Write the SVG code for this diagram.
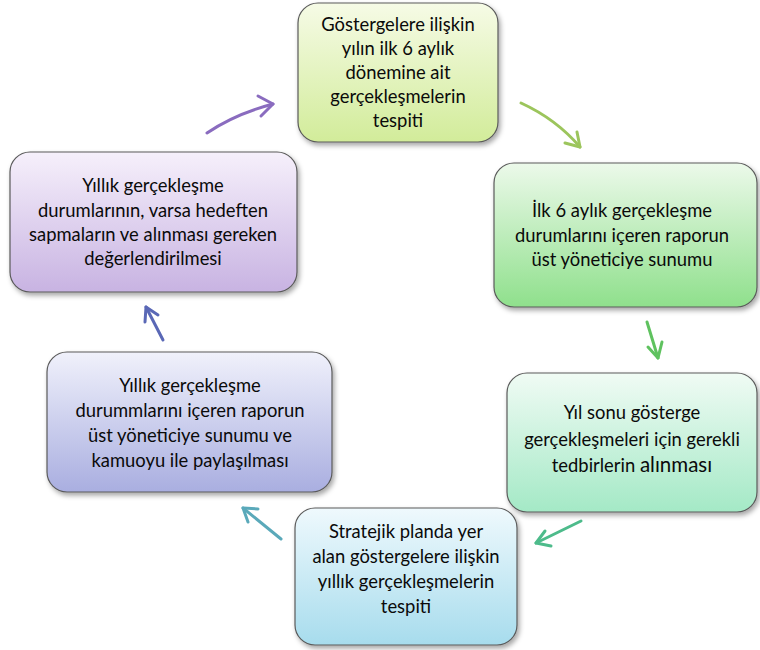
<svg xmlns="http://www.w3.org/2000/svg" width="760" height="650" viewBox="0 0 760 650">
<style>
.box{stroke:#5a5a5a;stroke-width:1.2;filter:url(#sh)}
.t{font-family:Lato,"Open Sans","Liberation Sans",sans-serif;font-size:18.4px;fill:#0a0a0a;text-anchor:middle}
.c{fill:none;stroke-width:3;stroke-linecap:round;stroke-linejoin:round}
</style>
<defs>
<filter id="sh" x="-10%" y="-10%" width="125%" height="130%">
<feDropShadow dx="2" dy="3" stdDeviation="2.5" flood-color="#000" flood-opacity="0.35"/>
</filter>
<linearGradient id="g1" x1="0" y1="0" x2="0" y2="1"><stop offset="0" stop-color="#f6fbe6"/><stop offset="1" stop-color="#d2ec9a"/></linearGradient>
<linearGradient id="g2" x1="0" y1="0" x2="0" y2="1"><stop offset="0" stop-color="#ecf9ea"/><stop offset="1" stop-color="#8fe08c"/></linearGradient>
<linearGradient id="g3" x1="0" y1="0" x2="0" y2="1"><stop offset="0" stop-color="#f0fbf4"/><stop offset="1" stop-color="#a4e9c6"/></linearGradient>
<linearGradient id="g4" x1="0" y1="0" x2="0" y2="1"><stop offset="0" stop-color="#eff9fd"/><stop offset="1" stop-color="#a7dced"/></linearGradient>
<linearGradient id="g5" x1="0" y1="0" x2="0" y2="1"><stop offset="0" stop-color="#f0f1fb"/><stop offset="1" stop-color="#a9aee0"/></linearGradient>
<linearGradient id="g6" x1="0" y1="0" x2="0" y2="1"><stop offset="0" stop-color="#f6f0fb"/><stop offset="1" stop-color="#c8b3e2"/></linearGradient>
</defs>

<g id="n1">
<rect class="box" x="298" y="3" width="200" height="139" rx="20" fill="url(#g1)"/>
<text class="t" x="398" y="31">Göstergelere ilişkin</text>
<text class="t" x="398" y="55">yılın ilk 6 aylık</text>
<text class="t" x="398" y="79">dönemine ait</text>
<text class="t" x="398" y="103">gerçekleşmelerin</text>
<text class="t" x="398" y="127">tespiti</text>
</g>

<g id="n2">
<rect class="box" x="494" y="163" width="263" height="144" rx="20" fill="url(#g2)"/>
<text class="t" x="622" y="217">İlk 6 aylık gerçekleşme</text>
<text class="t" x="622" y="242">durumlarını içeren raporun</text>
<text class="t" x="622" y="266">üst yöneticiye sunumu</text>
</g>

<g id="n3">
<rect class="box" x="507" y="373" width="250" height="139" rx="20" fill="url(#g3)"/>
<text class="t" x="632" y="419">Yıl sonu gösterge</text>
<text class="t" x="632" y="446">gerçekleşmeleri için gerekli</text>
<text class="t" x="632" y="472">tedbirlerin <tspan font-size="20.5">alınması</tspan></text>
</g>

<g id="n4">
<rect class="box" x="295" y="508" width="222" height="137" rx="20" fill="url(#g4)"/>
<text class="t" x="406" y="538">Stratejik planda yer</text>
<text class="t" x="406" y="563">alan göstergelere ilişkin</text>
<text class="t" x="406" y="588">yıllık gerçekleşmelerin</text>
<text class="t" x="406" y="613">tespiti</text>
</g>

<g id="n5">
<rect class="box" x="47" y="352" width="285" height="140" rx="20" fill="url(#g5)"/>
<text class="t" x="190" y="392">Yıllık gerçekleşme</text>
<text class="t" x="190" y="417">durummlarını içeren raporun</text>
<text class="t" x="190" y="442">üst yöneticiye sunumu ve</text>
<text class="t" x="190" y="467">kamuoyu ile paylaşılması</text>
</g>

<g id="n6">
<rect class="box" x="10" y="152" width="287" height="140" rx="20" fill="url(#g6)"/>
<text class="t" x="153" y="192">Yıllık gerçekleşme</text>
<text class="t" x="153" y="217">durumlarının, varsa hedeften</text>
<text class="t" x="153" y="241">sapmaların ve alınması gereken</text>
<text class="t" x="153" y="265">değerlendirilmesi</text>
</g>

<g id="connectors">
<path class="c" stroke="#8a6cbf" d="M207,133 Q235,114 273,104"/>
<path class="c" stroke="#8a6cbf" d="M258,96 L273,104 L261,116"/>

<path class="c" stroke="#9cc55c" d="M521,103 Q556,119 580,147"/>
<path class="c" stroke="#9cc55c" d="M565,143 L580,147 L577,132"/>

<path class="c" stroke="#5fc25f" d="M647,322 L658,358"/>
<path class="c" stroke="#5fc25f" d="M648,347 L658,358 L662,342"/>

<path class="c" stroke="#4dbb8b" d="M581,521 L536,543"/>
<path class="c" stroke="#4dbb8b" d="M545,531 L536,543 L551,546"/>

<path class="c" stroke="#5aa9ba" d="M281,539 L243,508"/>
<path class="c" stroke="#5aa9ba" d="M258,509 L243,508 L248,522"/>

<path class="c" stroke="#5a68b6" d="M163,340 L146,307"/>
<path class="c" stroke="#5a68b6" d="M145,322 L146,307 L158,315"/>
</g>
</svg>
